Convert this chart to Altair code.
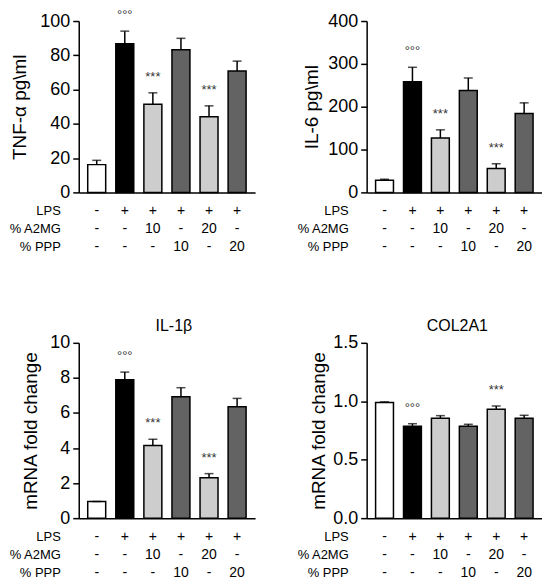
import altair as alt
import pandas as pd

# ---------------- data ----------------
idx = [1, 2, 3, 4, 5, 6]
group_type = ["ctrl", "lps", "a2mg", "ppp", "a2mg", "ppp"]
lps_row = ["-", "+", "+", "+", "+", "+"]
a2mg_row = ["-", "-", "10", "-", "20", "-"]
ppp_row = ["-", "-", "-", "10", "-", "20"]
row_names = ["LPS", "% A2MG", "% PPP"]

tnf_mean = [16.2, 86.7, 51.4, 83.2, 44.2, 70.9]
tnf_err = [2.5, 7.4, 6.7, 6.7, 6.3, 5.7]
il6_mean = [28.2, 258, 127, 238, 55.6, 184]
il6_err = [2.5, 34, 19, 29, 11.5, 25]
il1b_mean = [0.95, 7.89, 4.14, 6.93, 2.31, 6.36]
il1b_err = [0.0, 0.44, 0.36, 0.51, 0.23, 0.47]
col_mean = [0.99, 0.786, 0.854, 0.786, 0.931, 0.854]
col_err = [0.005, 0.022, 0.023, 0.017, 0.028, 0.026]

sig_main = ["", "°°°", "***", "", "***", ""]
sig_col = ["", "°°°", "", "", "***", ""]

type_domain = ["ctrl", "lps", "a2mg", "ppp"]
type_colors = ["#ffffff", "#000000", "#cdcdcd", "#636363"]

FONT = "Liberation Sans"
ROW_OFFS = [19, 37, 55]


def panel(mean, err, sig, ytitle, ymax, ticks, fmt, title, W, H, tpad, tdx=0):
    df = pd.DataFrame({
        "idx": idx, "grp": group_type, "mean": mean, "err": err, "sig": sig,
        "lps": lps_row, "a2mg": a2mg_row, "ppp": ppp_row,
    })
    base = alt.Chart(df).transform_calculate(top="datum.mean + datum.err")
    x = alt.X("idx:O",
              scale=alt.Scale(paddingInner=0.36, paddingOuter=0.32),
              axis=alt.Axis(labels=False, ticks=False, title=None,
                            domainColor="black", domainWidth=1.5))
    y = alt.Y("mean:Q",
              scale=alt.Scale(domain=[0, ymax], nice=False, zero=True),
              axis=alt.Axis(values=ticks, tickCount=len(ticks), format=fmt,
                            title=ytitle,
                            grid=False, tickSize=6, tickWidth=1.5,
                            tickColor="black", domainColor="black",
                            domainWidth=1.5, labelFont=FONT,
                            labelFontSize=18, labelColor="black",
                            labelPadding=3, labelOverlap=False,
                            labelFlush=False, titleFont=FONT,
                            titleFontSize=19, titleFontWeight="normal",
                            titleColor="black", titlePadding=tpad))
    bars = base.mark_bar(stroke="black", strokeWidth=1.5).encode(
        x=x, y=y,
        fill=alt.Fill("grp:N", scale=alt.Scale(domain=type_domain, range=type_colors),
                      legend=None))
    rule = base.mark_rule(color="black", strokeWidth=1.5).encode(
        x="idx:O", y="mean:Q", y2="top:Q")
    cap = base.mark_tick(color="black", thickness=1.5, size=9).encode(
        x="idx:O", y="top:Q")
    sigt = base.mark_text(font=FONT, fontSize=13, baseline="middle", dy=-16,
                          color="#333333").encode(
        x="idx:O", y="top:Q", text="sig:N")
    layers = [bars, rule, cap, sigt]
    for col, off in zip(["lps", "a2mg", "ppp"], ROW_OFFS):
        layers.append(base.mark_text(font=FONT, fontSize=14, baseline="middle",
                                     color="black").encode(
            x="idx:O", y=alt.value(H + off), text=f"{col}:N"))
    for name, off in zip(row_names, ROW_OFFS):
        layers.append(alt.Chart(alt.Data(values=[{"t": name}])).mark_text(
            font=FONT, fontSize=13, baseline="middle", align="right",
            color="black").encode(
            x=alt.value(-18), y=alt.value(H + off), text="t:N"))
    props = dict(width=W, height=H)
    if title:
        props["title"] = alt.TitleParams(title, font=FONT, fontSize=16,
                                         fontWeight="normal", color="black",
                                         offset=0, dx=tdx, anchor="middle")
    return alt.layer(*layers).properties(**props)


p1 = panel(tnf_mean, tnf_err, sig_main, "TNF-α pg\\ml", 100,
           [0, 20, 40, 60, 80, 100], "d", None, 177, 172, 10)
p2 = panel(il6_mean, il6_err, sig_main, "IL-6 pg\\ml", 400,
           [0, 100, 200, 300, 400], "d", None, 176, 172, 6)
p3 = panel(il1b_mean, il1b_err, sig_main, "mRNA fold change", 10,
           [0, 2, 4, 6, 8, 10], "d", "IL-1β", 177, 176, 9, 7)
p4 = panel(col_mean, col_err, sig_col, "mRNA fold change", 1.5,
           [0, 0.5, 1.0, 1.5], ".1f", "COL2A1", 176, 176, 4, 3)

chart = alt.concat(p1, p2, p3, p4, columns=2,
                   spacing={"row": 151, "column": 112},
                   bounds="flush").properties(
    padding={"left": 0, "top": 0, "right": 0, "bottom": 0},
    background="white",
).configure_view(stroke=None)

chart.save("out.html", embed_options={"renderer": "svg", "actions": False})
